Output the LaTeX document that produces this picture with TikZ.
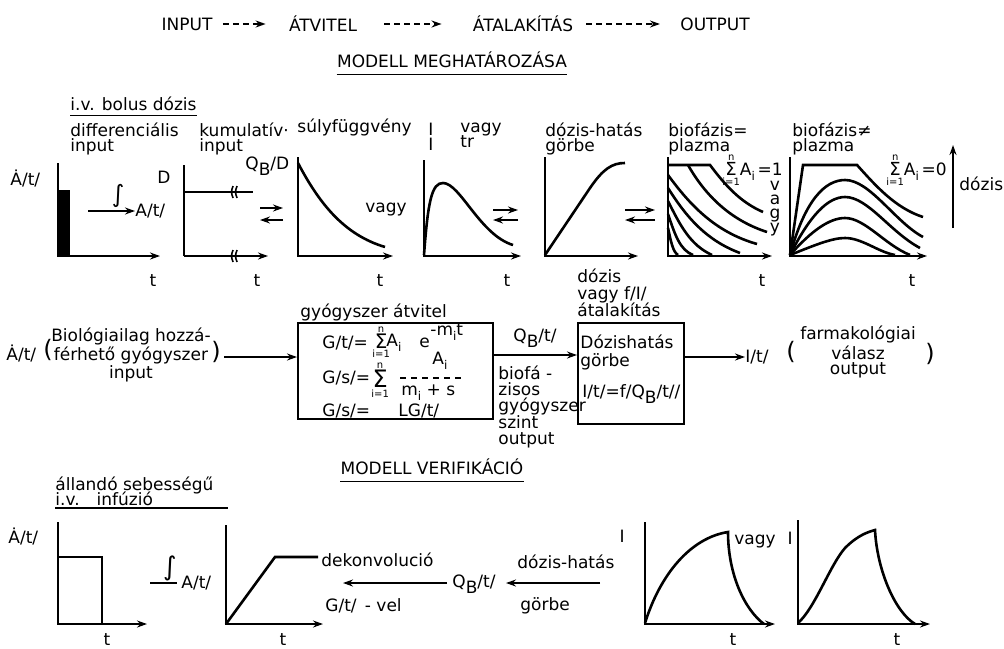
\documentclass[tikz,border=0pt]{standalone}
\usepackage{fontspec}
\setmainfont{DejaVu Sans}
\usetikzlibrary{arrows.meta}

\newcommand{\lowr}[1]{\raisebox{-2.5pt}{\fontsize{6}{6}\selectfont #1}}
\newcommand{\qbee}{Q\raisebox{-3pt}{B}}
\newcommand{\tightlines}{\setlength{\lineskiplimit}{-10pt}}
\newcommand{\sumstack}[1]{{\renewcommand{\arraystretch}{0.4}\setlength{\tabcolsep}{0pt}%
  \begin{tabular}{c}{\fontsize{5}{5}\selectfont n}\\{\fontsize{#1}{#1}\selectfont Σ}\\{\fontsize{5}{5}\selectfont i=1}\end{tabular}}}

\begin{document}
\begin{tikzpicture}[
    x=0.5pt, y=-0.5pt, >={Stealth[length=5pt, width=3.5pt]},
% Text styles
    lbl/.style={inner sep=0pt, font=\fontsize{8.5}{7.5}\selectfont},
    lblw/.style={lbl, anchor=west},
    multi/.style={lbl, anchor=north west, align=left, font=\fontsize{8.5}{7.2}\selectfont\tightlines},
    paren/.style={inner sep=0pt, font=\fontsize{12}{12}\selectfont},
% Line styles
    axis/.style={->, line width=1pt},
    plain/.style={line width=1pt},
    curve/.style={line width=1.3pt},
    flow/.style={->, line width=0.9pt},
    dflow/.style={->, line width=0.9pt, dash pattern=on 3pt off 2pt},
    underl/.style={line width=0.7pt},
    box/.style={rectangle, draw, line width=1pt, inner sep=0pt}
]
\useasboundingbox (0,0) rectangle (1004,648);

% 1. Header
\node[lbl] (input) at (187,24) {INPUT};
\node[lbl] (atvitel) at (323,24) {ÁTVITEL};
\node[lbl] (atalak) at (523,24) {ÁTALAKÍTÁS};
\node[lbl] (output) at (715,24) {OUTPUT};
\draw[dflow, shorten <=5pt, shorten >=11.5pt] (input) -- (atvitel);
\draw[dflow, shorten <=13.5pt, shorten >=15.5pt] (atvitel) -- (atalak);
\draw[dflow, shorten <=6.5pt, shorten >=10pt] (atalak) -- (output);

\node[lbl] (modmeg) at (452,60) {MODELL MEGHATÁROZÁSA};
\draw[underl] ([yshift=-3pt]modmeg.south west) -- ([yshift=-3pt]modmeg.south east);

% 2. Model definition, i.v. bolus
\node[lblw] (bolus) at (70,104) {i.v. bolus dózis};
\draw[underl] ([yshift=-2pt]bolus.south west) -- ([yshift=-2pt]bolus.south east);

% differential input
\node[multi] (diffin) at (70,123) {differenciális\\input};
\node[lblw] (adot1) at (10,179) {Ȧ/t/};
\draw[axis] (58,163) -- (58,256) -- (160,256);
\fill (58,190) rectangle (70,256);
\node[inner sep=0pt, font=\fontsize{12}{12}\selectfont] (integ1) at (118,196) {∫};
\node[lblw] (aint1) at (135,211) {A/t/};
\coordinate (intstart) at (88,211);
\draw[flow] (intstart) -- (aint1.west);

% cumulative input
\node[multi] (kumin) at (199,123) {kumulatív·\\input};
\node[lbl] (dee) at (164,177) {D};
\node[lblw] (qbd) at (245,166) {\qbee/D};
\draw[plain] (184,165) -- (184,256);
\draw[plain] (184,192) -- (253,192);
\draw[axis] (184,256) -- (268,256);
\foreach \bx in {232,236} {
  \draw[line width=0.8pt] ({\bx+1},186) .. controls ({\bx-1},192) .. ({\bx+1},198);
  \draw[line width=0.8pt] ({\bx+1},250) .. controls ({\bx-1},256) .. ({\bx+1},262);
}
\draw[flow] (260,208) -- (283,208);
\draw[flow] (283,220) -- (260,220);

% weight function
\node[lbl, anchor=east] (sulyf) at (412,127) {súlyfüggvény};
\draw[axis] (298,157) -- (298,256) -- (393,256);
\draw[curve] (298,163) .. controls (320,205) and (345,235) .. (385,247);
\node[lbl] (vagy1) at (386,210) {vagy};

% I or tr
\node[multi] (iilab) at (428,123) {I\\I};
\node[multi] (vagytr) at (460,123) {vagy\\tr};
\draw[axis] (424,160) -- (424,256) -- (521,256);
\draw[curve] (424,255) .. controls (428,200) and (432,183) .. (443,183)
    .. controls (460,183) and (480,235) .. (513,245);
\draw[flow] (493,210) -- (518,210);
\draw[flow] (518,220) -- (493,220);

% dose-response curve
\node[multi] (dozhatlab) at (545,123) {dózis-hatás\\görbe};
\draw[axis] (545,157) -- (545,256) -- (638,256);
\draw[curve] (545,255) -- (590,188) .. controls (603,169) and (612,163) .. (625,163);
\draw[flow] (625,210) -- (655,210);
\draw[flow] (655,220) -- (625,220);
\node[multi, font=\fontsize{8.5}{8.6}\selectfont\tightlines] (dozvagy) at (577,268) {dózis\\vagy f/I/\\átalakítás};

% biophase = plasma
\node[multi] (biof1) at (668,123) {biofázis=\\plazma};
\draw[axis] (668,157) -- (668,256) -- (772,256);
\draw[curve] (668,165) -- (710,165) .. controls (725,185) and (740,202) .. (763,212);
\draw[curve] (688,165) .. controls (705,195) and (730,220) .. (767,232);
\draw[curve] (668,175) .. controls (690,205) and (715,232) .. (757,244);
\draw[curve] (668,188) .. controls (685,215) and (705,240) .. (740,253);
\draw[curve] (668,201) .. controls (680,225) and (690,245) .. (712,255);
\draw[curve] (668,214) .. controls (675,235) and (680,250) .. (693,255);
\draw[curve] (668,228) .. controls (671,242) and (673,252) .. (678,255);
\node[lblw] (sumone) at (722,171) {\sumstack{9}A\lowr{i}\,=1};
\node[lbl, align=center, font=\fontsize{8.5}{7}\selectfont\tightlines] (vagyv) at (775,209) {v\\a\\g\\y};

% biophase != plasma
\node[multi] (biof2) at (792,123) {biofázis≠\\plazma};
\draw[axis] (790,157) -- (790,256) -- (927,256);
\draw[curve] (790,255) -- (803,165) -- (857,165) .. controls (875,185) and (895,208) .. (923,217);
\draw[curve] (790,255) .. controls (805,200) and (825,180) .. (845,180) .. controls (870,180) and (895,222) .. (923,237);
\draw[curve] (790,255) .. controls (810,215) and (828,197) .. (845,197) .. controls (868,197) and (890,232) .. (920,248);
\draw[curve] (790,255) .. controls (812,230) and (830,218) .. (845,218) .. controls (865,218) and (885,245) .. (910,255);
\draw[curve] (790,255) .. controls (815,245) and (832,238) .. (845,238) .. controls (862,238) and (878,252) .. (895,255);
\node[lblw] (sumzero) at (886,171) {\sumstack{9}A\lowr{i}\,=0};
\coordinate (dozbot) at (953,228);
\coordinate (doztop) at (953,145);
\draw[axis] (dozbot) -- (doztop);
\node[lblw] (dozisax) at (959,184) {dózis};

% time labels
\foreach \tx/\ty [count=\k] in {153/281, 257/281, 380/281, 507/281, 762/281, 912/281,
    107/640, 283/640, 733/640, 897/640}
  \node[lbl] (tlab\k) at (\tx,\ty) {t};

% 3. Block diagram
\node[lblw] (adot2) at (6,354) {Ȧ/t/};
\node[paren] (lpar1) at (48,350) {(};
\node[lbl, align=center, font=\fontsize{8.5}{7.3}\selectfont] (bio) at (131,355) {Biológiailag hozzá-\\férhető gyógyszer\\input};
\node[paren] (rpar1) at (216,352) {)};

\node[box, minimum width=97.5pt, minimum height=48pt] (atv) at (395.5,371) {};
\node[lbl, anchor=west] (atvlab) at (300,312) {gyógyszer átvitel};
\coordinate (bioout) at (224,357);
\draw[flow] (bioout) -- (bioout -| atv.west);

% transfer formulas
\node[lblw] (gt1) at (322,343) {G/t/=};
\node[lblw] (sig1) at (372,343) {\sumstack{10}};
\node[lblw] (ai1) at (386,343) {A\lowr{i}};
\node[lblw] (ee) at (419,343) {e};
\node[lblw] (expo) at (430,332) {-m\lowr{i}t};
\node[lblw] (gs1) at (322,378) {G/s/=};
\node[lblw] (sig2) at (371,381) {\sumstack{12}};
\node[lblw] (ai2) at (432,361) {A\lowr{i}};
\draw[line width=0.6pt, dash pattern=on 3pt off 2.5pt] (400,378) -- (462,378);
\node[lblw] (mis) at (401,393) {m\lowr{i} + s};
\node[lblw] (gs2) at (322,411) {G/s/=};
\node[lblw] (lgt) at (398,411) {LG/t/};

% biophase drug level to dose-response block
\node[box, minimum width=53pt, minimum height=50.5pt] (dozhat) at (631,373.5) {};
\node[lblw] (dozt1) at (580,342) {Dózishatás};
\node[lblw] (dozt2) at (580,362) {görbe};
\node[lblw] (dozt3) at (582,394) {I/t/=f/\qbee/t//};
\coordinate (yqb) at (0,355);
\draw[flow] (atv.east |- yqb) -- (dozhat.west |- yqb);
\node[lbl] (qbt1) at (535,338) {\qbee/t/};
\node[multi, font=\fontsize{8.5}{8.2}\selectfont\tightlines] (biofzis) at (498,365) {biofá -\\zisos\\gyógyszer\\szint\\output};

% pharmacological response
\node[lblw] (ioutlab) at (745,357) {I/t/};
\draw[flow] (dozhat.east |- ioutlab.west) -- (ioutlab.west);
\node[paren] (lpar2) at (791,352) {(};
\node[lbl, align=center, font=\fontsize{8.5}{7.5}\selectfont] (farm) at (858,352) {farmakológiai\\válasz\\output};
\node[paren] (rpar2) at (930,354) {)};

% 4. Model verification
\node[lbl] (modver) at (432,467) {MODELL VERIFIKÁCIÓ};
\draw[underl] ([yshift=-3pt]modver.south west) -- ([yshift=-3pt]modver.south east);
\node[multi, font=\fontsize{8.5}{7.5}\selectfont\tightlines] (allando) at (55,476) {állandó sebességű\\i.v.\quad infúzió};
\coordinate (allul) at (228,508);
\draw[underl] (allando.west |- allul) -- (allul);

% constant rate infusion
\node[lblw] (adot3) at (8,537) {Ȧ/t/};
\draw[axis] (58,522) -- (58,624) -- (147,624);
\draw[plain] (58,557) -- (102,557) -- (102,624);
\node[inner sep=0pt, font=\fontsize{13}{13}\selectfont] (integ2) at (170,568) {∫};
\draw[plain] (150,583) -- (177,583);
\node[lblw] (aint2) at (181,583) {A/t/};

% cumulative amount
\draw[axis] (226,525) -- (226,624) -- (323,624);
\draw[curve] (226,624) -- (275,557) -- (318,557);
\node[lblw] (dekonv) at (321,560) {dekonvolució};
\node[lblw] (gtvel) at (325,606) {G/t/ \,- vel};
\node[lblw] (qbt2) at (452,584) {\qbee/t/};
\coordinate (dkstart) at (447,583);
\coordinate (dkend) at (343,583);
\draw[flow] (dkstart) -- (dkend);
\node[lblw] (dozhat2) at (517,562) {dózis-hatás};
\node[lblw] (gorbe2) at (520,606) {görbe};
\coordinate (dhstart) at (600,583);
\coordinate (dhend) at (506,583);
\draw[flow] (dhstart) -- (dhend);
\node[lbl] (ilab2) at (622,536) {I};

% measured effect curves
\draw[axis] (645,522) -- (645,624) -- (775,624);
\draw[curve] (645,623) .. controls (660,575) and (690,538) .. (728,532)
    .. controls (728,575) and (745,610) .. (764,624);
\node[lblw] (vagyI) at (734,540) {vagy\hspace{6pt}I};
\draw[axis] (798,520) -- (798,624) -- (930,624);
\draw[curve] (798,623) .. controls (815,608) and (830,565) .. (845,548)
    .. controls (858,535) and (868,532) .. (875,530)
    .. controls (877,570) and (895,612) .. (915,624);

\end{tikzpicture}
\end{document}
